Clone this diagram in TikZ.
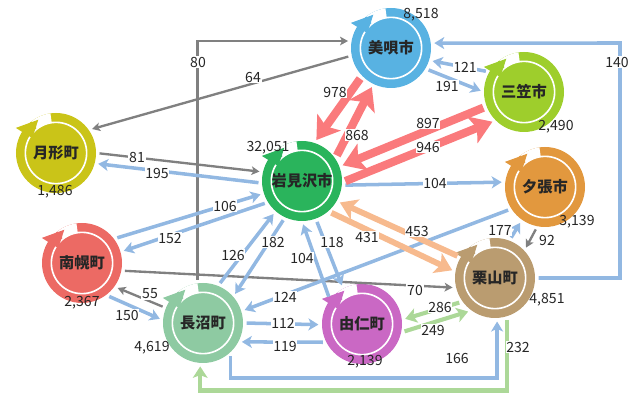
\documentclass[tikz,border=0pt]{standalone}
\usepackage{fontspec}
\setmainfont{Noto Sans CJK JP}
\usepackage{xcolor}
\usepackage{tikz}
\usetikzlibrary{positioning,arrows.meta,calc}
\definecolor{bibaic}{RGB}{88,178,226}
\definecolor{mikasac}{RGB}{158,206,44}
\definecolor{tsukic}{RGB}{202,196,24}
\definecolor{iwamic}{RGB}{42,180,92}
\definecolor{yubaric}{RGB}{226,152,62}
\definecolor{nanpoc}{RGB}{236,106,100}
\definecolor{kuric}{RGB}{186,156,112}
\definecolor{naganc}{RGB}{142,202,162}
\definecolor{yunic}{RGB}{202,104,196}
\definecolor{linegray}{RGB}{128,128,128}
\definecolor{lineblue}{RGB}{146,184,226}
\definecolor{linegreen}{RGB}{172,216,152}
\definecolor{lineorange}{RGB}{247,186,142}
\definecolor{linered}{RGB}{250,122,124}
\tikzset{
  town/.style={circle, minimum size=24mm, inner sep=0pt,
               font=\fontsize{13}{15}\selectfont\bfseries, text=black!85,
               path picture={
                 \fill[white] (path picture bounding box.center) ++(98:9.1mm)
                   arc[start angle=98, end angle=128, radius=9.1mm]
                   -- ++(128:3.2mm) arc[start angle=128, end angle=98, radius=12.3mm] -- cycle;
                 \draw[white, line width=1.4pt] (path picture bounding box.center) circle[radius=9.2mm];
               }},
  gryedge/.style={-{Stealth[length=2.4mm, width=2.6mm, inset=0.6mm]}, line width=2pt,
                  linegray, shorten <=1mm, shorten >=1mm},
  bluedge/.style={-{Stealth[length=3mm, width=3.6mm, inset=0.8mm]}, line width=3pt,
                  lineblue, shorten <=1mm, shorten >=1mm},
  grnedge/.style={-{Stealth[length=3.4mm, width=4.4mm, inset=0.8mm]}, line width=3.5pt,
                  linegreen, shorten <=1mm, shorten >=1mm},
  orgedge/.style={-{Stealth[length=5mm, width=6.5mm, inset=1.2mm]}, line width=5pt,
                  lineorange, shorten <=1mm, shorten >=1mm},
  rededge/.style={-{Stealth[length=6.5mm, width=8.5mm, inset=1.5mm]}, line width=7pt,
                  linered, shorten <=1mm, shorten >=1mm},
  num/.style={font=\fontsize{12}{14}\selectfont, text=black!85, fill=white, inner sep=0.6pt},
  pop/.style={font=\fontsize{12}{14}\selectfont, text=black!85, inner sep=0.6pt}
}

\begin{document}
\begin{tikzpicture}[x=0.3mm, y=-0.3mm]
\useasboundingbox (0,0) rectangle (634,396);
% towns
\node[town, fill=bibaic]  (bibai)  at (391,48)  {美唄市};
\node[town, fill=mikasac] (mikasa) at (524,92)  {三笠市};
\node[town, fill=tsukic]  (tsuki)  at (56,153)  {月形町};
\node[town, fill=iwamic]  (iwami)  at (302,181) {岩見沢市};
\node[town, fill=yubaric] (yubari) at (545,187) {夕張市};
\node[town, fill=nanpoc]  (nanpo)  at (82,263)  {南幌町};
\node[town, fill=kuric]   (kuri)   at (495,278) {栗山町};
\node[town, fill=naganc]  (nagan)  at (203,323) {長沼町};
\node[town, fill=yunic]   (yuni)   at (362,324) {由仁町};
% arrow head of each ring
\foreach \t/\c in {bibai/bibaic, mikasa/mikasac, tsuki/tsukic, iwami/iwamic, yubari/yubaric,
                   nanpo/nanpoc, kuri/kuric, nagan/naganc, yuni/yunic}
  \fill[\c] (\t.center) ++(148:8.4mm) -- ++(148:5.8mm) -- ($(\t.center)+(118:11.3mm)$) -- cycle;
% corners of the long connectors
\coordinate (c140) at (620,43);
\coordinate (c166) at ($(kuri.273)+(0,60)$);
\coordinate (c232) at ($(kuri.287)+(0,74)$);
% gray
\draw[gryedge] (bibai.191) -- (tsuki.35);
\draw[gryedge] (nagan.98) |- (bibai.170);
\draw[gryedge] (tsuki.0) -- (iwami.167);
\draw[gryedge] (nanpo.-11) -- (kuri.194);
\draw[gryedge] (nagan.158) -- (nanpo.-36);
\draw[gryedge] (yubari.259) -- (kuri.43);
% blue
\draw[bluedge] (iwami.183) -- (tsuki.-15);
\draw[bluedge] (nanpo.37) -- (iwami.198);
\draw[bluedge] (iwami.212) -- (nanpo.16);
\draw[bluedge] (nagan.68) -- (iwami.229);
\draw[bluedge] (iwami.245) -- (nagan.41);
\draw[bluedge] (yuni.143) -- (iwami.270);
\draw[bluedge] (iwami.290) -- (yuni.118);
\draw[bluedge] (yubari.213) -- (nagan.17);
\draw[bluedge] (nanpo.-53) -- (nagan.176);
\draw[bluedge] (nagan.0) -- (yuni.181);
\draw[bluedge] (yuni.207) -- (nagan.-28);
\draw[bluedge] (iwami.-6) -- (yubari.173);
\draw[bluedge] (mikasa.150) -- (bibai.-18);
\draw[bluedge] (bibai.-31) -- (mikasa.180);
\draw[bluedge] (kuri.69) -- (yubari.235);
\draw[bluedge] (kuri.0) -| (c140) -- (bibai.7);
\draw[bluedge] (nagan.313) |- (c166) -- (kuri.273);
% green
\draw[grnedge] (kuri.287) -- (c232) -| (nagan.266);
\draw[grnedge] (kuri.216) -- (yuni.6);
\draw[grnedge] (yuni.-12) -- (kuri.234);
% orange
\draw[orgedge] (iwami.-49) -- (kuri.171);
\draw[orgedge] (kuri.149) -- (iwami.-30);
% red
\draw[rededge] (bibai.224) -- (iwami.72);
\draw[rededge] (iwami.34) -- (bibai.244);
\draw[rededge] (mikasa.201) -- (iwami.21);
\draw[rededge] (iwami.-2) -- (mikasa.225);
% flow numbers
\node[num] (l64)   at (253,77)  {64};
\node[num] (l80)   at (198,62)  {80};
\node[num] (l81)   at (137,157) {81};
\node[num] (l195)  at (157,173) {195};
\node[num] (l106)  at (225,206) {106};
\node[num] (l152)  at (170,238) {152};
\node[num] (l126)  at (233,255) {126};
\node[num] (l182)  at (273,242) {182};
\node[num] (l104b) at (302,258) {104};
\node[num] (l118)  at (332,242) {118};
\node[num] (l124)  at (285,297) {124};
\node[num] (l70)   at (415,290) {70};
\node[num] (l55)   at (150,294) {55};
\node[num] (l150)  at (127,315) {150};
\node[num] (l112)  at (283,323) {112};
\node[num] (l119)  at (285,346) {119};
\node[num] (l166)  at (457,358) {166};
\node[num] (l232)  at (518,347) {232};
\node[num] (l286)  at (440,307) {286};
\node[num] (l249)  at (433,330) {249};
\node[num] (l104a) at (435,183) {104};
\node[num] (l177)  at (500,230) {177};
\node[num] (l92)   at (547,240) {92};
\node[num] (l140)  at (617,62)  {140};
\node[num] (l121)  at (465,67)  {121};
\node[num] (l191)  at (447,86)  {191};
\node[num] (l978)  at (335,92)  {978};
\node[num] (l868)  at (357,135) {868};
\node[num] (l897)  at (428,123) {897};
\node[num] (l946)  at (428,147) {946};
\node[num] (l431)  at (367,237) {431};
\node[num] (l453)  at (417,231) {453};
% population
\node[pop] (pbibai)  at (421,15)  {8,518};
\node[pop] (pmikasa) at (556,127) {2,490};
\node[pop] (ptsuki)  at (55,192)  {1,486};
\node[pop] (piwami)  at (268,148) {32,051};
\node[pop] (pyubari) at (577,222) {3,139};
\node[pop] (pnanpo)  at (82,303)  {2,367};
\node[pop] (pkuri)   at (547,300) {4,851};
\node[pop] (pnagan)  at (152,348) {4,619};
\node[pop] (pyuni)   at (365,362) {2,139};
\end{tikzpicture}
\end{document}
